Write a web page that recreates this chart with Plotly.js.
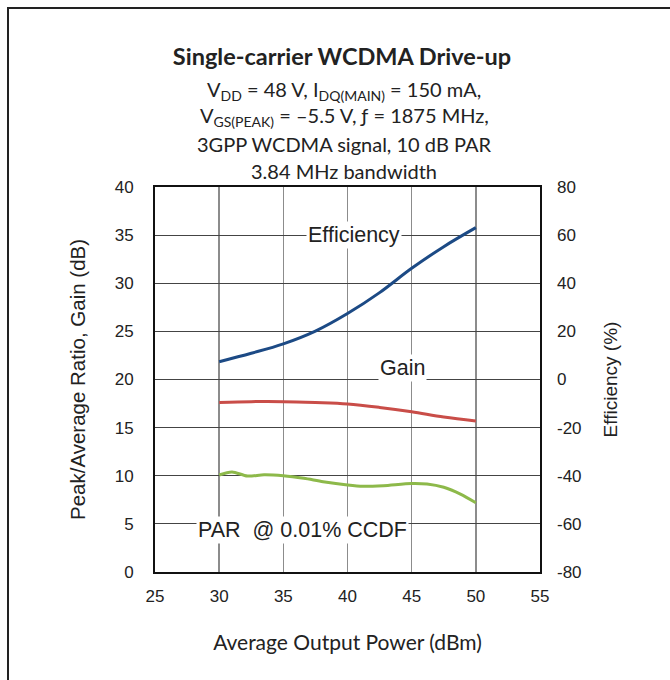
<!DOCTYPE html>
<html>
<head>
<meta charset="utf-8">
<script src="https://cdn.plot.ly/plotly-3.0.1.min.js"></script>
<style>html,body{margin:0;padding:0;background:#fff;}</style>
</head>
<body>
<div id="chart" style="width:670px;height:680px;"></div>
<script>
// Data
const effPower = [30, 32.5, 35, 37.5, 40, 42.5, 45, 47.5, 50];
const efficiency = [7.4, 10.9, 14.8, 20.1, 27.4, 36.1, 46.2, 55.2, 63.1];

const gainPower = [30, 32.5, 35, 37.5, 40, 42.5, 45, 47.5, 50];
const gain = [17.6, 17.7, 17.7, 17.6, 17.45, 17.1, 16.65, 16.1, 15.7];

const parPower = [30, 31, 32.2, 33.5, 35, 36.6, 38.1, 40, 41.2, 42.8, 45, 46.2, 47.5, 48.8, 50];
const par = [10.08, 10.4, 9.97, 10.1, 10.0, 9.73, 9.38, 9.04, 8.9, 8.97, 9.2, 9.14, 8.8, 8.1, 7.2];

const xTicks = [25, 30, 35, 40, 45, 50, 55];
const leftTicks = [0, 5, 10, 15, 20, 25, 30, 35, 40];
const rightTicks = [-80, -60, -40, -20, 0, 20, 40, 60, 80];
const rightTickText = ['-80', '-60', '-40', '-20', '0', '20', '40', '60', '80'];

const ML = 155, MR = 130, MT = 187, MB = 108, W = 670, H = 680;
const PW = W - ML - MR, PH = H - MT - MB;
const px = p => (p - ML) / PW;
const py = p => (H - MB - p) / PH;

const arial = 'Liberation Sans, Arial, sans-serif';
const tickFont = {family: arial, size: 17, color: '#222'};
const titleFam = 'Lato, Noto Sans, sans-serif';

const traces = [
  {x: parPower, y: par, mode: 'lines', line: {color: '#8db94a', width: 3, shape: 'spline', smoothing: 0.8}, hoverinfo: 'skip'},
  {x: gainPower, y: gain, mode: 'lines', line: {color: '#c94d48', width: 3, shape: 'spline'}, hoverinfo: 'skip'},
  {x: effPower, y: efficiency, yaxis: 'y2', mode: 'lines', line: {color: '#1c4a85', width: 3, shape: 'spline', smoothing: 1}, hoverinfo: 'skip'}
];

const subLines = [
  'V<sub>DD</sub> = 48 V, I<sub>DQ(MAIN)</sub> = 150 mA,',
  'V<sub>GS(PEAK)</sub> = \u20135.5 V, \u0192 = 1875 MHz,',
  '3GPP WCDMA signal, 10 dB PAR',
  '3.84 MHz bandwidth'
];
const subY = [90, 117, 144, 171];

const annotations = subLines.map((t, i) => ({
  text: t, xref: 'paper', yref: 'paper', x: px(344), y: py(subY[i]),
  xanchor: 'center', yanchor: 'middle', showarrow: false,
  font: {family: titleFam, size: 20, color: '#222'}
}));

const labelFont = {family: arial, size: 21.5, color: '#222'};
annotations.push(
  {text: 'Efficiency', x: 40.5, y: 35.0, xref: 'x', yref: 'y', showarrow: false, bgcolor: '#fff', font: labelFont, xanchor: 'center', yanchor: 'middle', borderpad: 1},
  {text: 'Gain', x: 44.25, y: 21.2, xref: 'x', yref: 'y', showarrow: false, bgcolor: '#fff', font: labelFont, xanchor: 'center', yanchor: 'middle', borderpad: 1},
  {text: 'PAR\u00a0 @ 0.01% CCDF', x: 36.46, y: 4.36, xref: 'x', yref: 'y', showarrow: false, bgcolor: '#fff', font: labelFont, xanchor: 'center', yanchor: 'middle', borderpad: 1}
);

const layout = {
  width: W, height: H,
  margin: {l: ML, r: MR, t: MT, b: MB, pad: 0},
  paper_bgcolor: '#fff', plot_bgcolor: '#fff',
  showlegend: false,
  title: {
    text: '<b>Single-carrier WCDMA Drive-up</b>',
    font: {family: titleFam, size: 23.5, color: '#222'},
    x: px(342), xref: 'paper', xanchor: 'center',
    y: 1 - 57 / H, yref: 'container', yanchor: 'middle'
  },
  xaxis: {
    range: [25, 55], tickvals: xTicks, ticks: '', tickfont: tickFont, ticklabelstandoff: 8,
    showgrid: true, gridcolor: '#8c8c8c', gridwidth: 1.5,
    showline: true, linecolor: '#111', linewidth: 2, mirror: true,
    zeroline: false, fixedrange: true,
    title: {text: 'Average Output Power (dBm)', font: {family: titleFam, size: 21, color: '#222'}, standoff: 30}
  },
  yaxis: {
    range: [0, 40], tickvals: leftTicks, ticks: '', tickfont: tickFont, ticklabelstandoff: 16,
    showgrid: true, gridcolor: '#444', gridwidth: 1,
    showline: true, linecolor: '#111', linewidth: 2, mirror: true,
    zeroline: false, fixedrange: true,
    title: {text: 'Peak/Average Ratio, Gain (dB)', font: {family: arial, size: 20.5, color: '#222'}, standoff: 24}
  },
  yaxis2: {
    range: [-80, 80], tickvals: rightTicks, ticktext: rightTickText, ticks: '', tickfont: tickFont, ticklabelstandoff: 16,
    overlaying: 'y', side: 'right', showgrid: false, zeroline: false, fixedrange: true,
    title: {text: 'Efficiency (%)', font: {family: arial, size: 19, color: '#222'}, standoff: 23}
  },
  shapes: [{
    type: 'rect', xref: 'paper', yref: 'paper',
    x0: px(8), x1: px(700), y0: py(700), y1: py(8),
    line: {color: '#222', width: 2}, fillcolor: 'rgba(0,0,0,0)', layer: 'below'
  }],
  annotations: annotations
};

Plotly.newPlot('chart', traces, layout, {displayModeBar: false, staticPlot: true});
</script>
</body>
</html>
